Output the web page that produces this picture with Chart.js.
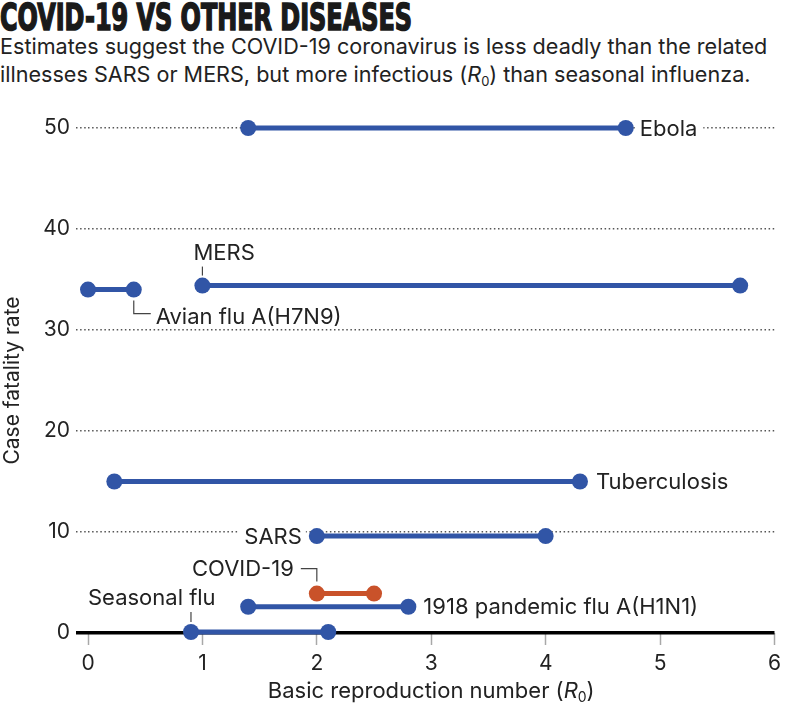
<!DOCTYPE html>
<html>
<head>
<meta charset="utf-8">
<script src="https://cdn.jsdelivr.net/npm/chart.js@4"></script>
<style>
    body { margin: 0; background: #fff; width: 787px; height: 706px; overflow: hidden; position: relative; font-family: Inter, Roboto, sans-serif; color: #222; }
    #title { position: absolute; left: 0; top: -2px; font-family: 'Liberation Sans Narrow', 'DejaVu Sans Condensed', sans-serif; font-weight: bold; font-size: 38px; line-height: 38px; transform-origin: 0 0; white-space: nowrap; color: #1a1a1a; -webkit-text-stroke: 1.6px #1a1a1a; }
    #subtitle { position: absolute; left: 0; top: 32px; font-size: 21.6px; line-height: 28px; color: #222; white-space: nowrap; }
    #subtitle sub { font-size: 0.6em; vertical-align: -0.3em; line-height: 0; }
    #chart { position: absolute; left: 0; top: 0; }
</style>
</head>
<body>
<div id="title">COVID-19 VS OTHER DISEASES</div>
<div id="subtitle">Estimates suggest the COVID-19 coronavirus is less deadly than the related<br>illnesses SARS or MERS, but more infectious (<i>R</i><sub>0</sub>) than seasonal influenza.</div>
<canvas id="chart" width="787" height="706"></canvas>
<script>
// Data
const diseases = ['Ebola', 'MERS', 'Avian flu A(H7N9)', 'Tuberculosis', 'SARS', '1918 pandemic flu A(H1N1)', 'Seasonal flu', 'COVID-19'];
const r0Low = [1.4, 1.0, 0.0, 0.23, 2.0, 1.4, 0.9, 2.0];
const r0High = [4.7, 5.7, 0.4, 4.3, 4.0, 2.8, 2.1, 2.5];
const fatality = [50, 34.4, 34.0, 15, 9.6, 2.6, 0.1, 3.9];
const xTicks = [0, 1, 2, 3, 4, 5, 6];
const yTicks = [0, 10, 20, 30, 40, 50];

const BLUE = '#3155a6';
const ORANGE = '#c9522a';
const INK = '#222';
const FONT = 'Inter, Roboto, sans-serif';

// Where each label sits relative to its line (pixels)
const labelPlacement = {
    'Ebola': { anchor: 'high', side: 'right', dx: 14, bg: true },
    'MERS': { anchor: 'low', side: 'above', dx: -9, dy: -33, tick: [-19, -10] },
    'Avian flu A(H7N9)': { anchor: 'high', side: 'elbowRight', dx: 22, dy: 27 },
    'Tuberculosis': { anchor: 'high', side: 'right', dx: 16 },
    'SARS': { anchor: 'low', side: 'left', dx: -15, bg: true },
    '1918 pandemic flu A(H1N1)': { anchor: 'high', side: 'right', dx: 15 },
    'Seasonal flu': { anchor: 'low', side: 'above', dx: -103, dy: -35, tick: [-20, -10] },
    'COVID-19': { anchor: 'low', side: 'elbowLeft', dx: -23, dy: -25 }
};

// fit the condensed title to the reference width
(function () {
    const t = document.getElementById('title');
    const w = t.getBoundingClientRect().width;
    t.style.transform = 'scaleX(' + (412 / w) + ')';
})();

const datasets = diseases.map((name, i) => {
    const color = name === 'COVID-19' ? ORANGE : BLUE;
    return {
        label: name,
        data: [{ x: r0Low[i], y: fatality[i] }, { x: r0High[i], y: fatality[i] }],
        showLine: true,
        borderColor: color,
        borderWidth: 5,
        pointRadius: 8,
        pointBackgroundColor: color,
        pointBorderWidth: 0,
        clip: false
    };
});

const labelsPlugin = {
    id: 'diseaseLabels',
    beforeDatasetsDraw(chart) {
        const ctx = chart.ctx;
        const xs = chart.scales.x, ys = chart.scales.y;
        ctx.save();
        ctx.font = '22px ' + FONT;
        ctx.textBaseline = 'middle';
        ctx.strokeStyle = '#444';
        ctx.lineWidth = 1.2;
        diseases.forEach((name, i) => {
            const p = labelPlacement[name];
            const px = xs.getPixelForValue(p.anchor === 'low' ? r0Low[i] : r0High[i]);
            const py = ys.getPixelForValue(fatality[i]);
            const w = ctx.measureText(name).width;
            let tx, ty = py, align = 'left';
            if (p.side === 'right') {
                tx = px + p.dx;
            } else if (p.side === 'left') {
                tx = px + p.dx; align = 'right';
            } else if (p.side === 'above') {
                tx = px + p.dx; ty = py + p.dy;
                ctx.beginPath();
                ctx.moveTo(px, py + p.tick[0]);
                ctx.lineTo(px, py + p.tick[1]);
                ctx.stroke();
            } else if (p.side === 'elbowRight') {
                tx = px + p.dx; ty = py + p.dy;
                ctx.beginPath();
                ctx.moveTo(px, py + 11);
                ctx.lineTo(px, ty - 3);
                ctx.lineTo(tx - 5, ty - 3);
                ctx.stroke();
            } else if (p.side === 'elbowLeft') {
                tx = px + p.dx; ty = py + p.dy; align = 'right';
                ctx.beginPath();
                ctx.moveTo(px, py - 12);
                ctx.lineTo(px, ty);
                ctx.lineTo(tx + 7, ty);
                ctx.stroke();
            }
            if (p.bg) {
                const left = align === 'left' ? tx - 4 : tx - w - 6;
                ctx.fillStyle = '#fff';
                ctx.fillRect(left, ty - 13, w + 10, 26);
            }
            ctx.fillStyle = INK;
            ctx.textAlign = align;
            ctx.fillText(name, tx, ty + 1);
        });
        ctx.restore();
    },
    afterDraw(chart) {
        // x axis title with italic R and subscript 0
        const ctx = chart.ctx;
        const area = chart.chartArea;
        ctx.save();
        ctx.fillStyle = INK;
        ctx.textBaseline = 'alphabetic';
        const main = 'Basic reproduction number (';
        const f1 = '22px ' + FONT;
        const fi = 'italic 22px ' + FONT;
        const fs = '14px ' + FONT;
        ctx.font = f1; const w1 = ctx.measureText(main).width; const w4 = ctx.measureText(')').width;
        ctx.font = fi; const w2 = ctx.measureText('R').width;
        ctx.font = fs; const w3 = ctx.measureText('0').width;
        const total = w1 + w2 + w3 + w4;
        let x = (area.left + area.right) / 2 - total / 2;
        const y = 698;
        ctx.font = f1; ctx.fillText(main, x, y); x += w1;
        ctx.font = fi; ctx.fillText('R', x, y); x += w2;
        ctx.font = fs; ctx.fillText('0', x, y + 4); x += w3;
        ctx.font = f1; ctx.fillText(')', x, y);
        ctx.restore();
    }
};

const dotted = [1.5, 2.6];

new Chart(document.getElementById('chart'), {
    type: 'scatter',
    data: { datasets: datasets },
    options: {
        responsive: false,
        animation: false,
        layout: { padding: { top: 128, right: 9, left: 0, bottom: 0 } },
        plugins: { legend: { display: false }, tooltip: { enabled: false } },
        scales: {
            x: {
                type: 'linear',
                min: xTicks[0],
                max: xTicks[xTicks.length - 1],
                afterBuildTicks: (s) => { s.ticks = xTicks.map(v => ({ value: v })); },
                afterFit: (s) => { s.height = 73; },
                border: { display: false },
                grid: { drawOnChartArea: false, drawTicks: true, tickLength: 12, tickColor: '#a8a8a8', tickWidth: 1.5 },
                ticks: { color: INK, font: { size: 21, family: FONT }, padding: 6 }
            },
            y: {
                min: yTicks[0],
                max: yTicks[yTicks.length - 1],
                afterBuildTicks: (s) => { s.ticks = yTicks.map(v => ({ value: v })); },
                afterFit: (s) => { s.width = 88; },
                border: {
                    display: false,
                    dash: (c) => (c.tick && c.tick.value === 0 ? [] : dotted)
                },
                grid: {
                    drawTicks: true,
                    tickLength: 12,
                    color: (c) => (c.tick && c.tick.value === 0 ? '#000' : '#555'),
                    lineWidth: (c) => (c.tick && c.tick.value === 0 ? 3.5 : 1.5),
                    tickColor: (c) => (c.tick && c.tick.value === 0 ? '#000' : '#555'),
                    tickWidth: (c) => (c.tick && c.tick.value === 0 ? 3.5 : 1.5),
                    tickBorderDash: (c) => (c.tick && c.tick.value === 0 ? [] : dotted)
                },
                ticks: { color: INK, font: { size: 21, family: FONT }, padding: 6 },
                title: { display: true, text: 'Case fatality rate', color: INK, font: { size: 21, family: FONT }, padding: 0 }
            }
        }
    },
    plugins: [labelsPlugin]
});
</script>
</body>
</html>
